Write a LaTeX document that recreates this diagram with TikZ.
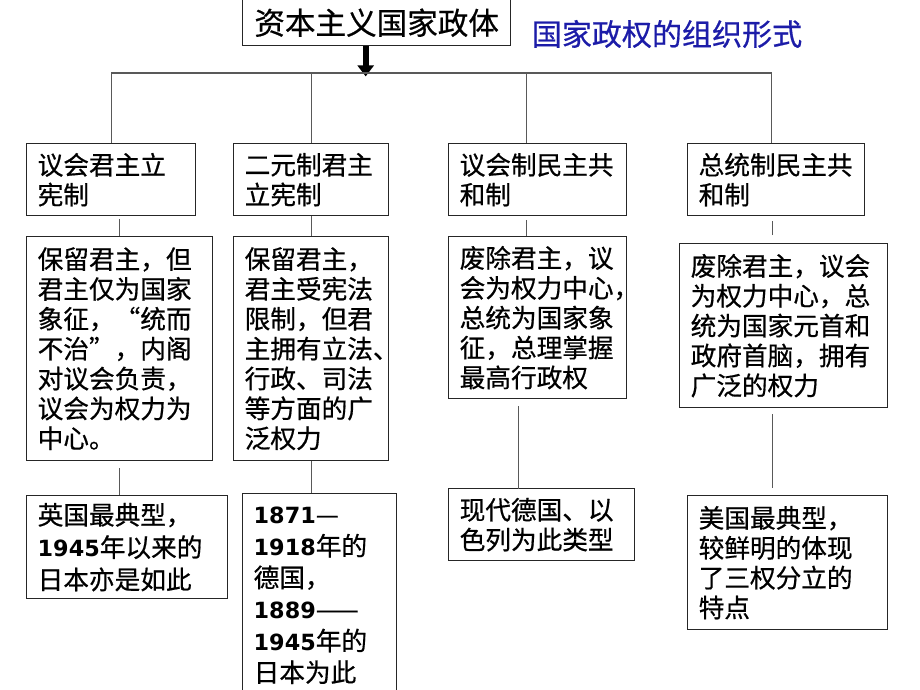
\documentclass[tikz,border=0pt]{standalone}
\usepackage{fontspec}
\setmainfont{Noto Sans CJK SC}[FakeBold=0.6]
\newfontfamily\yearfont[Scale=0.87]{DejaVu Sans}
\newcommand{\yearnum}[1]{{\yearfont\bfseries #1}}
\usetikzlibrary{arrows.meta}
\definecolor{titleblue}{RGB}{28,28,168}

\begin{document}
\begin{tikzpicture}[x=0.02cm, y=-0.02cm,
  box/.style={draw=black!85, line width=0.8pt, anchor=north west, align=left,
              inner xsep=0.22cm, inner ysep=0pt, font=\fontsize{14.6}{17}\selectfont},
  link/.style={draw=black!65, line width=0.6pt},
  bigarrow/.style={line width=0.12cm, -{Triangle[width=0.32cm,length=0.22cm]}}]
  \useasboundingbox (0,0) rectangle (920,690);
  \clip (0,0) rectangle (920,690);

  \node[box, align=center, minimum width=5.36cm, minimum height=0.92cm,
        font=\fontsize{17.4}{20}\selectfont] (top) at (242,-1) {资本主义国家政体};
  \node[text=titleblue, font=\fontsize{17.1}{20}\selectfont] (title) at (667,34) {国家政权的组织形式};

  \node[box, text width=2.94cm, minimum height=1.44cm] (a1) at (26,143) {议会君主立\\宪制};
  \node[box, text width=2.66cm, minimum height=1.44cm] (a2) at (233,143) {二元制君主\\立宪制};
  \node[box, text width=3.12cm, minimum height=1.44cm] (a3) at (448,143) {议会制民主共\\和制};
  \node[box, text width=3.10cm, minimum height=1.44cm] (a4) at (687,143) {总统制民主共\\和制};

  \node[box, text width=3.28cm, minimum height=4.48cm] (b1) at (26,236)
    {保留君主，但\\君主仅为国家\\象征，“统而\\不治”，内阁\\对议会负责，\\议会为权力为\\中心。};
  \node[box, text width=2.66cm, minimum height=4.48cm] (b2) at (233,236)
    {保留君主，\\君主受宪法\\限制，但君\\主拥有立法、\\行政、司法\\等方面的广\\泛权力};
  \node[box, text width=3.12cm, minimum height=3.24cm] (b3) at (448,236)
    {废除君主，议\\会为权力中心，\\总统为国家象\\征，总理掌握\\最高行政权};
  \node[box, text width=3.72cm, minimum height=3.28cm] (b4) at (679,243)
    {废除君主，议会\\为权力中心，总\\统为国家元首和\\政府首脑，拥有\\广泛的权力};

  \node[box, text width=3.58cm, minimum height=2.06cm, font=\fontsize{14.6}{18.4}\selectfont] (c1) at (26,495)
    {英国最典型，\\\yearnum{1945}年以来的\\日本亦是如此};
  \node[box, text width=2.64cm, minimum height=4.08cm, font=\fontsize{14.6}{18}\selectfont] (c2) at (242,493)
    {\yearnum{1871}—\\\yearnum{1918}年的\\德国，\\\yearnum{1889}——\\\yearnum{1945}年的\\日本为此};
  \node[box, text width=3.28cm, minimum height=1.44cm] (c3) at (448,488)
    {现代德国、以\\色列为此类型};
  \node[box, text width=3.56cm, minimum height=2.68cm] (c4) at (687,495)
    {美国最典型，\\较鲜明的体现\\了三权分立的\\特点};

  \draw[bigarrow] ([xshift=-0.22cm]top.south) -- ++(0,30);
  \draw[link] (a1.north) -- ++(0,-70) -| ([xshift=-0.09cm]a4.north);
  \draw[link] (a2.north) -- ++(0,-70);
  \draw[link] ([xshift=-0.22cm]a3.north) -- ++(0,-70);

  \draw[link] (b1.north) -- ++(0,-17);
  \draw[link] (b2.north) -- (a2.south);
  \draw[link] ([xshift=-0.22cm]b3.north) -- ++(0,-16);
  \draw[link] ([xshift=-0.22cm,yshift=0.16cm]b4.north) -- ++(0,-14);

  \draw[link] ([yshift=-0.14cm]b1.south) -- (b1.south |- c1.north);
  \draw[link] (b2.south) -- (b2.south |- c2.north);
  \draw[link] ([xshift=-0.38cm,yshift=-0.14cm]b3.south) -- ++(0,83);
  \draw[link] ([xshift=-0.22cm,yshift=-0.12cm]b4.south) -- ++(0,74);
\end{tikzpicture}
\end{document}
